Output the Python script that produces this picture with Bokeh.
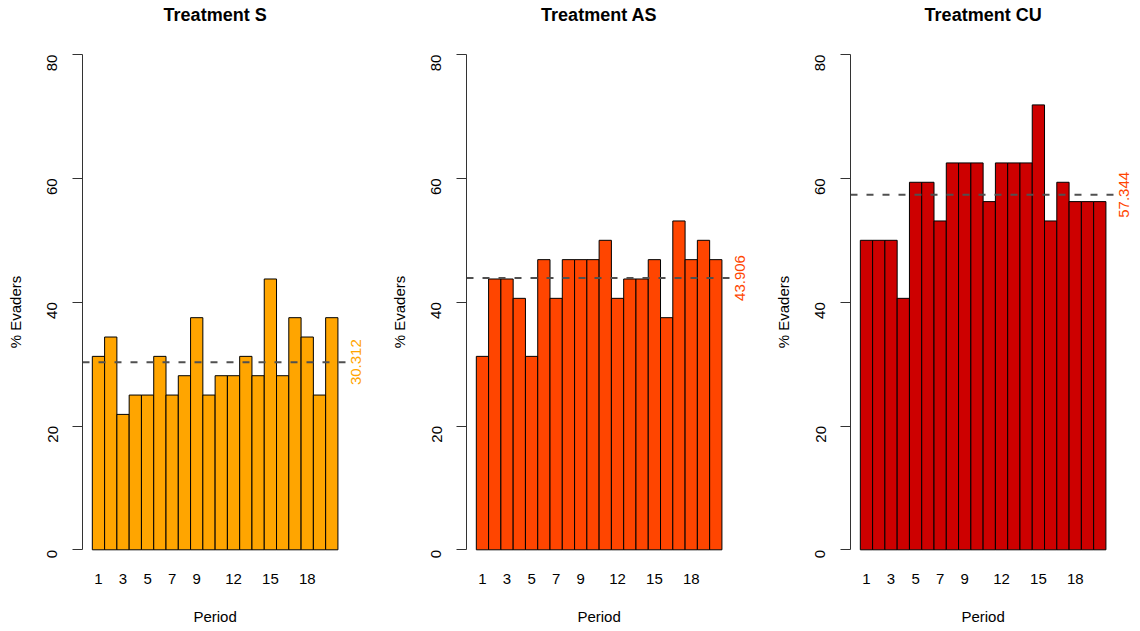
import math
from bokeh.plotting import figure
from bokeh.layouts import row
from bokeh.models import FixedTicker, Range1d
from bokeh.core.properties import value
from bokeh.embed import file_html
from bokeh.resources import INLINE

# ---------------- data ----------------
periods = list(range(1, 21))
shown_period_labels = ["1", "3", "5", "7", "9", "12", "15", "18"]
titles = ["Treatment S", "Treatment AS", "Treatment CU"]
evaders_S = [31.25, 34.375, 21.875, 25, 25, 31.25, 25, 28.125, 37.5, 25,
             28.125, 28.125, 31.25, 28.125, 43.75, 28.125, 37.5, 34.375, 25, 37.5]
evaders_AS = [31.25, 43.75, 43.75, 40.625, 31.25, 46.875, 40.625, 46.875, 46.875, 46.875,
              50, 40.625, 43.75, 43.75, 46.875, 37.5, 53.125, 46.875, 50, 46.875]
evaders_CU = [50, 50, 50, 40.625, 59.375, 59.375, 53.125, 62.5, 62.5, 62.5,
              56.25, 62.5, 62.5, 62.5, 71.875, 53.125, 59.375, 56.25, 56.25, 56.25]
y_ticks = [0, 20, 40, 60, 80]
series = [evaders_S, evaders_AS, evaders_CU]
bar_colors = ["#FFA500", "#FF4500", "#CD0000"]
label_colors = ["#FFA500", "#FF4500", "#FF4500"]

FONT = "Liberation Sans"

# --------------- geometry (pixel mapping like R's barplot) ---------------
FIG_H = 623
PX_PER_Y = 6.19
ZERO_PX = 549.3    # pixel row of value 0 (from figure top)
PX_PER_X = 12.28
LEFT_BORDER = 82


def py(pix):
    """pixel row from figure top -> data y"""
    return (ZERO_PX - pix) / PX_PER_Y


widths = [384, 384, 364]
figs = []
for k in range(3):
    vals = series[k]
    W = widths[k]
    frame_w = W - LEFT_BORDER
    x0 = -0.8
    x1 = x0 + frame_w / PX_PER_X
    p = figure(width=W, height=FIG_H, output_backend="svg", toolbar_location=None,
               x_range=Range1d(x0, x1), y_range=Range1d(py(FIG_H), py(0)),
               x_axis_location=None, min_border_left=LEFT_BORDER, min_border_right=0,
               min_border_top=0, min_border_bottom=0)
    p.outline_line_color = None
    p.grid.visible = False
    p.background_fill_color = "white"

    # bars
    lefts = [i - 1 for i in periods]
    rights = [i for i in periods]
    p.quad(left=lefts, right=rights, bottom=[0] * len(vals), top=vals,
           fill_color=bar_colors[k], line_color="black", line_width=1)

    # mean line (abline across the plot region)
    mean = sum(vals) / len(vals)
    p.segment(x0=[-0.8], x1=[20.8], y0=[mean], y1=[mean], line_color="#505050",
              line_width=2, line_dash="7 9")
    p.text(x=[21.5], y=[mean], text=["%.3f" % mean], angle=math.pi / 2,
           text_align="center", text_baseline="middle",
           text_font=value(FONT), text_font_size="15px", text_color=label_colors[k])

    # title
    p.text(x=[10], y=[py(14.7)], text=[titles[k]], text_align="center",
           text_baseline="alphabetic", text_font=value(FONT), text_font_size="18px",
           text_font_style="bold", text_color="black")

    # x tick labels (R barplot names, every other shown)
    lab_x = [int(s) - 0.5 for s in shown_period_labels]
    p.text(x=lab_x, y=[py(578)] * len(lab_x), text=shown_period_labels,
           text_align="center", text_baseline="alphabetic", text_font=value(FONT),
           text_font_size="15px", text_color="black")
    p.text(x=[10], y=[py(615.5)], text=["Period"], text_align="center",
           text_baseline="alphabetic", text_font=value(FONT), text_font_size="15px",
           text_color="black")

    # y axis
    ax = p.yaxis[0]
    ax.bounds = (0, 80)
    ax.ticker = FixedTicker(ticks=y_ticks)
    ax.minor_tick_line_color = None
    ax.major_tick_in = 0
    ax.major_tick_out = 10
    ax.axis_line_color = "#333333"
    ax.major_tick_line_color = "#333333"
    ax.major_label_orientation = math.pi / 2
    ax.major_label_standoff = 20
    ax.major_label_text_font = FONT
    ax.major_label_text_font_size = "15px"
    ax.major_label_text_color = "black"
    ax.axis_label = "% Evaders"
    ax.axis_label_text_font = FONT
    ax.axis_label_text_font_size = "15px"
    ax.axis_label_text_font_style = "normal"
    ax.axis_label_text_color = "black"
    ax.axis_label_standoff = 16
    figs.append(p)

layout = row(*figs, spacing=0)
open("out.html", "w").write(file_html(layout, INLINE))
